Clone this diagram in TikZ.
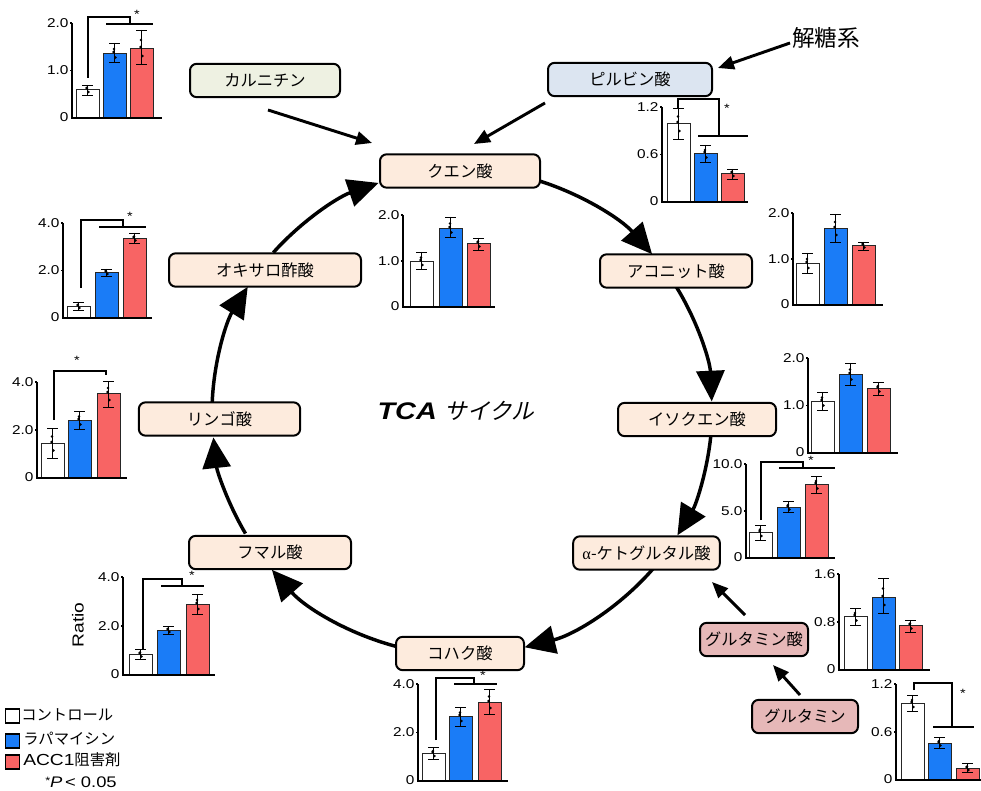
\documentclass[tikz,border=0pt]{standalone}
\usepackage{fontspec}
\setmainfont{Liberation Sans}[FakeStretch=1.2]
\newfontfamily\jp{Noto Sans CJK JP}
\newfontfamily\jpsl[FakeSlant=0.22]{Noto Sans CJK JP}
\newfontfamily\grk{Liberation Serif}
\usetikzlibrary{arrows.meta}
\definecolor{peach}{HTML}{FDEBDD}
\definecolor{carn}{HTML}{EEF1E2}
\definecolor{pyrc}{HTML}{DCE5F1}
\definecolor{gluc}{HTML}{E6B8B8}
\definecolor{cblue}{HTML}{1A7CF7}
\definecolor{cred}{HTML}{F86464}
\tikzset{
 met/.style={draw, line width=1.5pt, rounded corners=5pt, fill=peach, minimum height=25pt, inner sep=0pt, font=\jp\fontsize{12.2}{14}\selectfont},
 cyc/.style={line width=2.6pt, -{Triangle[length=23pt,width=21pt]}},
 feed/.style={line width=2.2pt, -{Triangle[length=12pt,width=10pt]}},
 axisl/.style={line width=1.4pt},
 ticklab/.style={font=\fontsize{9.6}{10}\selectfont, inner sep=1pt, anchor=east},
 barbox/.style={line width=0.6pt, draw=black!85},
 errl/.style={line width=0.7pt},
 sigl/.style={line width=1.4pt},
 starlab/.style={font=\fontsize{9}{10}\selectfont, inner sep=0pt},
 legtext/.style={anchor=west, inner sep=0pt, font=\jp\fontsize{11.5}{13}\selectfont},
 legbox/.style={draw, line width=0.8pt, minimum width=11pt, minimum height=10.5pt, inner sep=0pt},
}
% axis: ax by ty xend toplabel midlabel prefix
\newcommand\chaxis[7]{%
  \draw[axisl] (#1,#3) -- (#1,#2) -- (#4,#2);
  \draw[axisl] (#1,#3) -- ++(-2,0);
  \draw[axisl] (#1,{(#2+#3)/2}) -- ++(-2,0);
  \node[ticklab] (#7a) at (#1-2,#3) {#5};
  \node[ticklab] (#7b) at (#1-2,{(#2+#3)/2}) {#6};
  \node[ticklab] (#7c) at (#1-2,#2-1) {0};
}
% bar: x by top color errtop errbottom
\newcommand\cbar[6]{%
  \draw[barbox, fill=#4] (#1,#2) rectangle (#1+23,#3);
  \draw[errl] (#1+11.5,#5) -- (#1+11.5,#6)
     (#1+6,#5) -- (#1+17,#5) (#1+6,#6) -- (#1+17,#6);
  \fill (#1+10.5,#3-1) circle (1.3) (#1+12.5,{(#3+#6)/2}) circle (1.3) (#1+11,{(#3+#5)/2+1}) circle (1.3);
}
\newcommand\cycarc[2]{%
  \draw[cyc] ({462+250*cos(#1)},{412+243*sin(#1)}) arc[start angle=#1, end angle=#2, x radius=250, y radius=243];
}
\begin{document}
\begin{tikzpicture}[x=0.75pt,y=-0.75pt]
\useasboundingbox (0,0) rectangle (981,791);
\fill[white] (0,0) rectangle (981,791);

% cycle arcs
\cycarc{-73}{-40.5}
\cycarc{-31}{-2.5}
\cycarc{5}{30.5}
\cycarc{40}{75.5}
\cycarc{104}{139.5}
\cycarc{150}{174}
\cycarc{182}{211}
\cycarc{221}{250.5}

% metabolite nodes
\node[met, minimum width=120pt] (cit) at (460,171) {クエン酸};
\node[met, minimum width=114pt] (aco) at (676,271) {アコニット酸};
\node[met, minimum width=118.5pt] (iso) at (697,419.5) {イソクエン酸};
\node[met, minimum width=110pt] (akg) at (646.5,553) {{\grk α}-ケトグルタル酸};
\node[met, minimum width=96pt] (suc) at (460,653.5) {コハク酸};
\node[met, minimum width=121.5pt] (fum) at (270,552.5) {フマル酸};
\node[met, minimum width=121pt] (mal) at (219.5,419) {リンゴ酸};
\node[met, minimum width=144pt] (oaa) at (265,270) {オキサロ酢酸};
\node[met, fill=carn, minimum width=112.5pt] (car) at (265,80.5) {カルニチン};
\node[met, fill=pyrc, minimum width=123pt] (pyr) at (630,79.5) {ピルビン酸};
\node[met, fill=gluc, minimum width=81pt] (glu) at (754,639.5) {グルタミン酸};
\node[met, fill=gluc, minimum width=79.5pt] (gln) at (805,716.5) {グルタミン};

\node[font=\jp\fontsize{17}{18}\selectfont, inner sep=0pt] (gly) at (826,38) {解糖系};
\node[inner sep=0pt] (tca) at (456,411) {\fontsize{18}{20}\selectfont\bfseries\itshape TCA\ {\jpsl\mdseries\fontsize{17}{20}\selectfont サイクル}};

% feed arrows
\coordinate (carS) at (268,110); \coordinate (carE) at (372,143);
\coordinate (pyrS) at (545,103); \coordinate (pyrE) at (474,144);
\coordinate (glyS) at (790,43); \coordinate (glyE) at (718,68);
\coordinate (gluS) at (745,615); \coordinate (gluE) at (712,582);
\coordinate (glnS) at (800,695); \coordinate (glnE) at (773,665);
\draw[feed] (carS) -- (carE);
\draw[feed] (pyrS) -- (pyrE);
\draw[feed] (glyS) -- (glyE);
\draw[feed] (gluS) -- (gluE);
\draw[feed] (glnS) -- (glnE);

% chart A carnitine
\cbar{76}{118}{89}{white}{85}{95}
\cbar{103}{118}{53}{cblue}{43}{62}
\cbar{130}{118}{48}{cred}{30}{64}
\chaxis{72}{118}{23}{162}{2.0}{1.0}{ca}
\draw[sigl] (88,78) |- (130,17) -- (130,24);
\draw[sigl] (106,24) -- (153,24);
\node[starlab] (sa) at (137,14) {*};

% chart B pyruvate
\cbar{667}{202}{123}{white}{108}{139}
\cbar{694}{202}{153}{cblue}{145}{162}
\cbar{721}{202}{173}{cred}{169}{179}
\chaxis{662}{202}{107}{748}{1.2}{0.6}{cb}
\draw[sigl] (678,108) |- (719,99) -- (719,136);
\draw[sigl] (698,136) -- (748,136);
\node[starlab] (sb) at (727,108) {*};

% chart C citrate
\cbar{410}{307}{261}{white}{252}{269}
\cbar{439}{307}{228}{cblue}{217}{237}
\cbar{467}{307}{243}{cred}{238}{250}
\chaxis{403}{307}{215}{495}{2.0}{1.0}{cc}

% chart D oxaloacetate
\cbar{67}{318}{306}{white}{302}{310}
\cbar{95}{318}{272}{cblue}{269}{276}
\cbar{123}{318}{238}{cred}{233}{243}
\chaxis{63}{318}{223}{152}{4.0}{2.0}{cd}
\draw[sigl] (81,288) |- (123,220) -- (123,227);
\draw[sigl] (99,227) -- (146,227);
\node[starlab] (sd) at (130,216) {*};

% chart E malate
\cbar{41}{478}{443}{white}{428}{458}
\cbar{68}{478}{420}{cblue}{411}{429}
\cbar{97}{478}{393}{cred}{381}{407}
\chaxis{37}{478}{382}{127}{4.0}{2.0}{ce}
\draw[sigl] (54,420) |- (106,371) -- (106,375);
\node[starlab] (se) at (77,360) {*};

% chart F aconitate
\cbar{796}{305}{263}{white}{253}{273}
\cbar{824}{305}{228}{cblue}{214}{242}
\cbar{852}{305}{245}{cred}{242}{250}
\chaxis{793}{305}{213}{883}{2.0}{1.0}{cf}

% chart G isocitrate
\cbar{811}{453}{401}{white}{392}{410}
\cbar{839}{453}{374}{cblue}{363}{385}
\cbar{867}{453}{388}{cred}{382}{395}
\chaxis{808}{453}{358}{898}{2.0}{1.0}{cg}

% chart H alpha-KG
\cbar{749}{558}{532}{white}{525}{540}
\cbar{777}{558}{507}{cblue}{501}{512}
\cbar{805}{558}{484}{cred}{476}{493}
\chaxis{746}{558}{464}{835}{10.0}{5.0}{ch}
\draw[sigl] (761,520) |- (803,462) -- (803,468);
\draw[sigl] (779,468) -- (835,468);
\node[starlab] (sh) at (811,460) {*};

% chart I glutamate
\cbar{844}{670}{616}{white}{608}{625}
\cbar{872}{670}{597}{cblue}{578}{613}
\cbar{899}{670}{625}{cred}{620}{632}
\chaxis{839}{670}{574}{930}{1.6}{0.8}{ci}

% chart J glutamine
\cbar{901}{780}{703}{white}{695}{711}
\cbar{928}{780}{743}{cblue}{737}{748}
\cbar{956}{780}{768}{cred}{763}{772}
\chaxis{896}{780}{684}{981}{1.2}{0.6}{cj}
\draw[sigl] (914,690) |- (952,683) -- (952,727);
\draw[sigl] (933,727) -- (974,727);
\node[starlab] (sj) at (963,693) {*};

% chart K fumarate
\cbar{129}{675}{654}{white}{649}{659}
\cbar{157}{675}{630}{cblue}{626}{634}
\cbar{186}{675}{604}{cred}{594}{614}
\chaxis{123}{675}{577}{215}{4.0}{2.0}{ck}
\draw[sigl] (143,650) |- (182,579) -- (182,586);
\draw[sigl] (161,586) -- (204,586);
\node[starlab] (sk) at (192,575) {*};
\node[rotate=90, font=\fontsize{12}{14}\selectfont, inner sep=0pt] (ratio) at (78,625) {Ratio};

% chart L succinate
\cbar{422}{781}{753}{white}{747}{759}
\cbar{449}{781}{716}{cblue}{707}{726}
\cbar{478}{781}{702}{cred}{689}{714}
\chaxis{418}{781}{684}{508}{4.0}{2.0}{cl}
\draw[sigl] (436,740) |- (474,678) -- (474,684);
\draw[sigl] (454,684) -- (497,684);
\node[starlab] (sl) at (483,675) {*};

% legend
\node[legbox, fill=white] (lw) at (12.5,716) {};
\node[legbox, fill=cblue] (lb) at (12.5,741) {};
\node[legbox, fill=cred] (lr) at (12.5,762) {};
\node[legtext] (tw) at (21,715) {コントロール};
\node[legtext] (tb) at (23,738.5) {ラパマイシン};
\node[legtext] (tr) at (23,760) {{\rmfamily\fontsize{12}{13}\selectfont ACC1}阻害剤};
\node[anchor=west, inner sep=0pt, font=\fontsize{11.5}{12}\selectfont] (pv) at (45,782) {\raisebox{2pt}{\fontsize{8}{9}\selectfont *}\textit{P}\,< 0.05};
\end{tikzpicture}
\end{document}
